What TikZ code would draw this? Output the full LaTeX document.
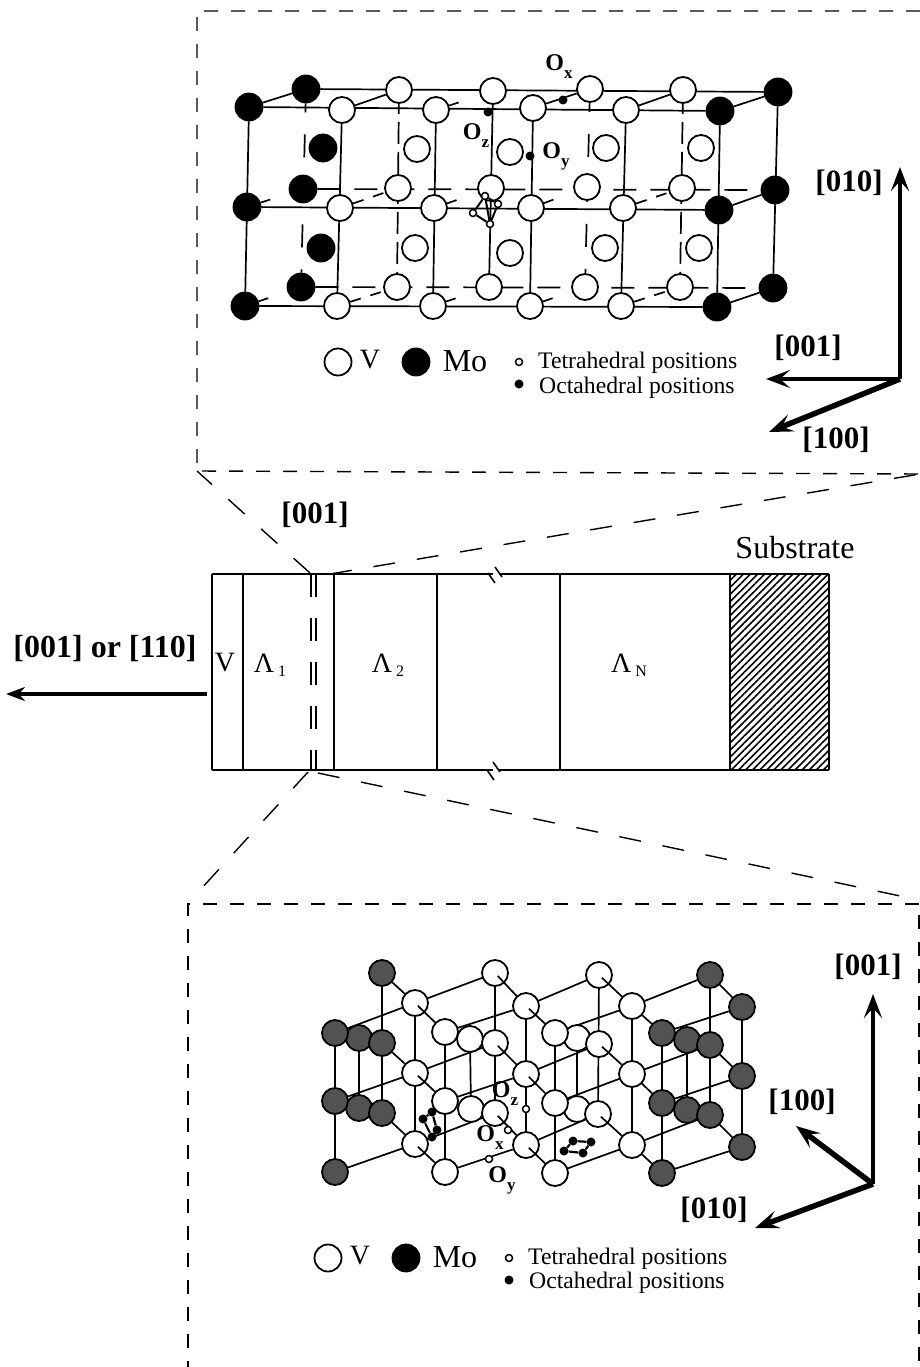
\documentclass[tikz,border=0pt]{standalone}
\usepackage{fontspec}
\setmainfont{Liberation Serif}
\usetikzlibrary{arrows.meta, patterns.meta, backgrounds}

\newcommand{\oxlabel}[1]{O\raisebox{-8pt}{\fontsize{17}{17}\selectfont #1}}
\newcommand{\lamlabel}[1]{Λ\hspace{4pt}\raisebox{-4pt}{\fontsize{16}{16}\selectfont #1}}

\begin{document}
\begin{tikzpicture}[
  x=1pt, y=-1pt,
  vat/.style={circle, draw, fill=white, line width=1.8pt, inner sep=0pt, minimum size=26pt},
  moat/.style={vat, fill=black, minimum size=27pt},
  mogray/.style={vat, fill=black!68, minimum size=26pt},
  tet/.style={circle, draw, fill=white, line width=1.5pt, inner sep=0pt, minimum size=7pt},
  octa/.style={circle, fill=black, inner sep=0pt, minimum size=9pt},
  bond/.style={line width=1.7pt},
  stub/.style={bond, dash pattern=on 11pt off 10pt},
  stubone/.style={bond, dash pattern=on 10pt off 60pt},
  backa/.style={bond, dash pattern=on 23pt off 14pt},
  backb/.style={bond, dash pattern=on 23pt off 22pt, dash phase=14pt},
  backc/.style={bond, dash pattern=on 22pt off 8pt, dash phase=12pt},
  cut/.style={line width=1.4pt, dash pattern=on 14pt off 13pt},
  zoomline/.style={line width=1.4pt, dash pattern=on 22pt off 22pt},
  stack/.style={line width=1.6pt},
  axis/.style={-{Stealth[length=24pt, width=18pt, inset=10pt]}, line width=5.5pt},
  axisthin/.style={axis, line width=3.8pt},
  lab/.style={font=\fontsize{31}{31}\selectfont\bfseries, inner sep=0pt},
  olab/.style={font=\fontsize{24}{24}\selectfont\bfseries, inner sep=0pt},
  txt/.style={font=\fontsize{28}{28}\selectfont, inner sep=0pt},
  motxt/.style={font=\fontsize{32}{32}\selectfont, inner sep=0pt},
  postxt/.style={font=\fontsize{23.7}{24}\selectfont, inner sep=0pt, anchor=west}
]
  \useasboundingbox (0,0) rectangle (920,1367);

  % Upper crystal: hidden atoms first
  \foreach \x/\y/\n in {306/89/11, 303/189/21, 301/287/31, 778/92/16, 775/190/26, 773/288/36}
    \node[moat] (tb\n) at (\x,\y) {};
  \foreach \x/\y/\n in {399/90/12, 398/188/22, 397/287/32, 493/91/13, 491/188/23, 489/287/33,
                        590/89/14, 587/187/24, 585/287/34, 683/90/15, 682/188/25, 680/287/35}
    \node[vat] (tb\n) at (\x,\y) {};
  \foreach \x/\y/\n in {323/148/1, 321/248/2}
    \node[moat] (tm\n) at (\x,\y) {};
  \foreach \x/\y/\n in {417/149/3, 415/248/4, 510/152/5, 510/253/6, 606/148/7, 605/248/8, 701/148/9, 699/248/10}
    \node[vat] (tm\n) at (\x,\y) {};
  % Front atoms
  \foreach \x/\y/\n in {249/107/11, 247/207/21, 245/306/31, 720/111/16, 719/210/26, 717/307/36}
    \node[moat] (tf\n) at (\x,\y) {};
  \foreach \x/\y/\n in {342/110/12, 436/110/13, 533/108/14, 626/110/15, 340/208/22, 434/208/23,
                        531/208/24, 623/208/25, 337/306/32, 433/306/33, 530/306/34, 621/306/35}
    \node[vat] (tf\n) at (\x,\y) {};

  % Bonds behind the atoms
  \begin{pgfonlayer}{background}
    \foreach \r in {1,2,3}
      \draw[bond] (tf\r1) -- (tf\r6);
    \foreach \c in {1,...,6}
      \draw[bond] (tf1\c) -- (tf3\c);
    \draw[bond] (tb11) -- (tb16);
    \draw[backa] (tb21) -- (tb26);
    \draw[backa] (tb31) -- (tb36);
    \foreach \c in {1,4}
      \draw[backb] (tb1\c) -- (tb3\c);
    \foreach \c in {2,5}
      \draw[backc] (tb1\c) -- (tb3\c);
    \foreach \c in {3,6}
      \draw[bond] (tb1\c) -- (tb3\c);
  \end{pgfonlayer}
  \foreach \n in {11,12,14,15,16,26,36}
    \draw[bond] (tf\n) -- (tb\n);
  \foreach \n in {22,25,32,35}
    \draw[stub] (tf\n) -- (tb\n);
  \foreach \n in {13,21,23,24,31,33,34}
    \draw[stubone] (tf\n) -- (tb\n);

  % Upper crystal: interstitial sites
  \node[octa] (oz1) at (488,112) {};
  \node[octa] (oy1) at (530,156) {};
  \node[octa] (ox1) at (563,100) {};
  \node[olab] (lz1) at (476,136) {\oxlabel{z}};
  \node[olab] (ly1) at (556,156) {\oxlabel{y}};
  \node[olab] (lx1) at (559,67) {\oxlabel{x}};
  \node[tet] (ta) at (485,196) {};
  \node[tet] (tb) at (498,204) {};
  \node[tet] (tc) at (473,213) {};
  \node[tet] (td) at (490,224) {};
  \draw[line width=2pt] (ta) -- (tc) -- (td) -- (tb) -- (ta) (ta) -- (td);

  % Upper legend
  \node[vat, minimum size=27pt] (lg1) at (338,362) {};
  \node[txt] (lg2) at (370,360) {V};
  \node[moat] (lg3) at (416,362) {};
  \node[motxt] (lg4) at (465,361) {Mo};
  \node[tet] (lg5) at (519,362) {};
  \node[octa] (lg6) at (519,384) {};
  \node[postxt] (lg7) at (538,363) {Tetrahedral positions};
  \node[postxt] (lg8) at (539,388) {Octahedral positions};

  % Upper axes
  \coordinate (ax0) at (900,379);
  \coordinate (ax1) at (900,167);
  \coordinate (ax2) at (766,379);
  \coordinate (ax3) at (769,432);
  \draw[axisthin] (ax0) -- (ax1);
  \draw[axisthin] (ax0) -- (ax2);
  \draw[axis] (ax0) -- (ax3);
  \node[lab] (ax1l) at (849,183) {[010]};
  \node[lab] (ax2l) at (808,348) {[001]};
  \node[lab] (ax3l) at (836,440) {[100]};

  % Upper zoom frame
  \coordinate (fa) at (920,11);
  \coordinate (fb) at (197,11);
  \coordinate (fc) at (197,471);
  \coordinate (fd) at (920,474);
  \draw[cut] (fa) -- (fb) -- (fc) -- (fd);

  % Layer stack
  \foreach \n/\x in {1/212, 2/243, 3/334, 4/437, 5/560, 6/730, 7/829}{
    \coordinate (la\n) at (\x,574);
    \coordinate (lb\n) at (\x,770);
    \draw[stack] (la\n) -- (lb\n);
  }
  \path[pattern={Lines[angle=45, distance=5pt, line width=1.6pt]}] (la6) rectangle (lb7);
  \foreach \r/\y in {a/574, b/770}{
    \coordinate (g\r1) at (493,\y);
    \coordinate (g\r2) at (499,\y);
    \draw[stack] (l\r1) -- (g\r1);
    \draw[stack] (g\r2) -- (l\r7);
  }
  \draw[stack] (488,573) -- ++(7,10);
  \draw[stack] (495,567) -- ++(7,10);
  \draw[stack] (487,770) -- ++(7,10);
  \draw[stack] (493,762) -- ++(7,10);
  \foreach \x/\n in {311/a, 316/b}{
    \coordinate (dt\n) at (\x,574);
    \coordinate (db\n) at (\x,770);
    \draw[stack, dash pattern=on 23pt off 21pt] (dt\n) -- (db\n);
  }
  \node[txt] (lv) at (225,663) {V};
  \node[txt] (l1) at (270,665) {\lamlabel{1}};
  \node[txt] (l2) at (388,665) {\lamlabel{2}};
  \node[txt] (ln) at (629,665) {\lamlabel{N}};
  \node[motxt] (lsub) at (795,548) {Substrate};
  \node[lab] (lc) at (315,515) {[001]};
  \node[lab, font=\fontsize{32}{32}\selectfont\bfseries] (lg) at (105,649) {[001] or [110]};
  \coordinate (gr0) at (207,694);
  \coordinate (gr1) at (6,694);
  \draw[-{Stealth[length=19pt, width=14pt]}, line width=3.5pt] (gr0) -- (gr1);

  % Zoom lines
  \coordinate (zc) at (330,574);
  \coordinate (zd) at (308,772);
  \coordinate (ze) at (318,773);
  \coordinate (zf) at (200,890);
  \coordinate (zg) at (905,897);
  \coordinate (zh) at (310,573);
  \draw[zoomline] (zh) -- (fc);
  \draw[zoomline] (zc) -- (fd);
  \draw[zoomline] (zd) -- (zf);
  \draw[zoomline] (ze) -- (zg);

  % Lower crystal
  \foreach \x/\y/\n in {359/1038/11, 359/1108/12, 687/1040/41, 687/1110/42}
    \node[mogray] (m\n) at (\x,\y) {};
  \foreach \x/\y/\n in {470/1039/21, 471/1109/22, 577/1038/31, 577/1109/32}
    \node[vat] (m\n) at (\x,\y) {};
  \foreach \x/\y/\n in {382/973/41, 382/1043/42, 382/1113/43, 710/975/44, 710/1045/45, 710/1115/46,
                        742/1007/47, 742/1076/48, 742/1147/49, 335/1033/11, 335/1101/12, 335/1172/13,
                        662/1033/14, 662/1103/15, 662/1173/16}
    \node[mogray] (b\n) at (\x,\y) {};
  \foreach \x/\y/\n in {495/973/51, 495/1043/52, 495/1113/53, 599/975/61, 599/1044/62, 598/1114/63,
                        415/1003/71, 415/1073/72, 415/1144/73, 526/1006/81, 526/1074/82, 526/1145/83,
                        632/1006/91, 632/1074/92, 632/1145/93, 445/1032/21, 445/1101/22, 445/1172/23,
                        555/1033/31, 555/1103/32, 555/1173/33}
    \node[vat] (b\n) at (\x,\y) {};

  \begin{pgfonlayer}{background}
    \foreach \c in {1,...,9}
      \draw[bond] (b\c1) -- (b\c3);
    \foreach \c in {1,2,3,4}
      \draw[bond] (m\c1) -- (m\c2);
    \foreach \l in {1,2,3}{
      \draw[bond] (b1\l) -- (b7\l);
      \draw[bond] (b2\l) -- (b8\l);
      \draw[bond] (b3\l) -- (b9\l);
      \draw[bond] (b7\l) -- (b5\l);
      \draw[bond] (b8\l) -- (b6\l);
      \draw[bond] (b9\l) -- (b4\the\numexpr\l+3\relax);
      \draw[bond] (b4\l) -- (b7\l);
    }
    \draw[bond] (b14) -- (b47);
    \draw[bond] (b15) -- (b48);
    \draw[bond] (b16) -- (b49);
    \draw[bond] (b44) -- (b47);
    \draw[bond] (b45) -- (b48);
    \draw[bond] (b46) -- (b49);
    \draw[bond] (b91) -- (b14);
    \draw[bond] (b92) -- (b15);
    \draw[bond] (b93) -- (b16);
    \draw[bond] (b14) -- (b16);
    \draw[bond] (b44) -- (b46);
    \draw[bond] (b47) -- (b49);
  \end{pgfonlayer}
  \foreach \l in {1,2,3}{
    \draw[bond, shorten <=4pt] (b7\l.center) -- (b2\l);
    \draw[bond, shorten <=4pt] (b8\l.center) -- (b3\l);
    \draw[bond, shorten <=4pt] (b5\l.center) -- (b8\l);
    \draw[bond, shorten <=4pt] (b6\l.center) -- (b9\l);
  }

  % Lower crystal: interstitial sites
  \node[tet] (oz2) at (526,1109) {};
  \node[tet] (ox2) at (508,1130) {};
  \node[tet] (oy2) at (489,1159) {};
  \node[olab] (lz2) at (505,1094) {\oxlabel{z}};
  \node[olab] (lx2) at (490,1138) {\oxlabel{x}};
  \node[olab] (ly2) at (502,1180) {\oxlabel{y}};
  \node[octa] (qa) at (423,1119) {};
  \node[octa] (qb) at (432,1112) {};
  \node[octa] (qc) at (437,1130) {};
  \node[octa] (qd) at (432,1137) {};
  \draw[line width=2.2pt] (qa) -- (qb) -- (qc) -- (qd) -- (qa);
  \node[octa] (qe) at (564,1151) {};
  \node[octa] (qf) at (573,1141) {};
  \node[octa] (qg) at (591,1142) {};
  \node[octa] (qh) at (583,1153) {};
  \draw[line width=2.2pt] (qe) -- (qf) -- (qg) -- (qh) -- (qe);

  % Lower legend
  \node[vat, minimum size=27pt] (lh1) at (328,1258) {};
  \node[txt] (lh2) at (360,1256) {V};
  \node[moat] (lh3) at (406,1258) {};
  \node[motxt] (lh4) at (455,1257) {Mo};
  \node[tet] (lh5) at (509,1258) {};
  \node[octa] (lh6) at (509,1280) {};
  \node[postxt] (lh7) at (528,1259) {Tetrahedral positions};
  \node[postxt] (lh8) at (529,1283) {Octahedral positions};

  % Lower axes
  \coordinate (bx0) at (873,1184);
  \coordinate (bx1) at (873,994);
  \coordinate (bx2) at (796,1126);
  \coordinate (bx3) at (755,1228);
  \draw[axisthin] (bx0) -- (bx1);
  \draw[axis] (bx0) -- (bx2);
  \draw[axis] (bx0) -- (bx3);
  \node[lab] (bx1l) at (868,967) {[001]};
  \node[lab] (bx2l) at (802,1102) {[100]};
  \node[lab] (bx3l) at (714,1210) {[010]};

  % Lower zoom frame
  \coordinate (ga) at (919,915);
  \coordinate (gb) at (919,904);
  \coordinate (gc) at (188,904);
  \coordinate (gd) at (188,1367);
  \coordinate (ge) at (919,1367);
  \draw[cut] (gb) -- (gc) -- (gd);
  \draw[cut] (ga) -- (ge);
\end{tikzpicture}
\end{document}
